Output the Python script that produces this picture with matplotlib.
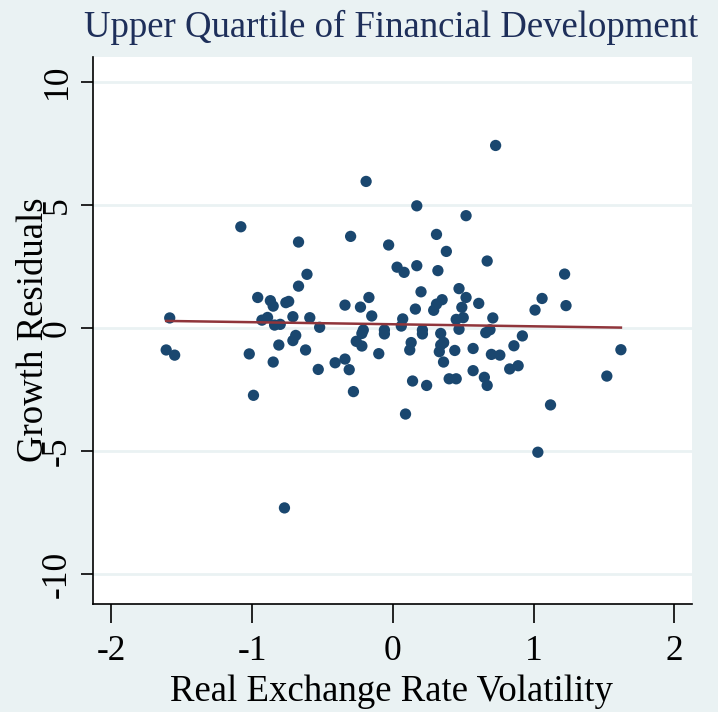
import numpy as np
import matplotlib
matplotlib.use("Agg")
import matplotlib.pyplot as plt

# volatility (x) and growth residuals (y)
vol = [-1.61, -1.585, -1.55, -1.08, -1.02, -0.99, -0.96, -0.93, -0.89, -0.87,
       -0.85, -0.85, -0.84, -0.81, -0.80, -0.77, -0.76, -0.74, -0.71, -0.71,
       -0.69, -0.67, -0.67, -0.62, -0.61, -0.59, -0.53, -0.52, -0.41, -0.34,
       -0.34, -0.31, -0.30, -0.28, -0.26, -0.23, -0.22, -0.22, -0.21, -0.19,
       -0.17, -0.15, -0.10, -0.06, -0.06, -0.03, 0.03, 0.06, 0.07, 0.08,
       0.09, 0.12, 0.13, 0.14, 0.16, 0.17, 0.17, 0.20, 0.21, 0.21,
       0.24, 0.29, 0.31, 0.31, 0.32, 0.33, 0.34, 0.34, 0.35, 0.36,
       0.36, 0.36, 0.38, 0.40, 0.44, 0.45, 0.45, 0.47, 0.47, 0.49,
       0.50, 0.52, 0.52, 0.57, 0.57, 0.61, 0.65, 0.66, 0.67, 0.67,
       0.69, 0.70, 0.71, 0.73, 0.76, 0.83, 0.86, 0.89, 0.92, 1.01,
       1.03, 1.06, 1.12, 1.22, 1.23, 1.52, 1.62]
resid = [-0.89, 0.41, -1.10, 4.11, -1.05, -2.73, 1.24, 0.32, 0.43, 1.11,
         0.89, -1.38, 0.12, -0.69, 0.15, -7.30, 1.03, 1.08, 0.46, -0.51,
         -0.30, 3.49, 1.70, -0.89, 2.18, 0.42, -1.68, 0.03, -1.41, 0.93,
         -1.26, -1.69, 3.72, -2.58, -0.54, 0.85, -0.22, -0.73, -0.08, 5.95,
         1.24, 0.49, -1.04, -0.08, -0.24, 3.37, 2.47, 0.08, 0.37, 2.26,
         -3.49, -0.89, -0.59, -2.15, 0.77, 4.96, 2.53, 1.47, -0.08, -0.24,
         -2.33, 0.72, 3.80, 0.97, 2.33, -0.96, -0.22, -0.69, 1.15, -0.59,
         -1.38, -0.59, 3.11, -2.06, -0.91, 0.35, -2.06, -0.05, 1.60, 0.84,
         0.42, 4.56, 1.24, -0.83, -1.73, 1.00, -2.00, -0.19, 2.72, -2.33,
         -0.07, -1.07, 0.41, 7.41, -1.10, -1.66, -0.72, -1.53, -0.32, 0.73,
         -5.04, 1.20, -3.12, 2.19, 0.91, -1.95, -0.88]

xticks = [-2, -1, 0, 1, 2]
yticks = [-10, -5, 0, 5, 10]

bg = "#EAF2F3"
navy = "#1A476F"
maroon = "#90353B"

plt.rcParams["font.family"] = ["Liberation Serif", "DejaVu Serif"]

W, H = 718, 712
fig = plt.figure(figsize=(W / 100, H / 100), dpi=100, facecolor=bg)
ax = fig.add_axes([93 / W, 1 - 604 / H, (692 - 93) / W, (604 - 57) / H])
ax.set_facecolor("white")

for yv in yticks:
    ax.axhline(yv, color=bg, lw=2, zorder=0)

ax.scatter(vol, resid, s=66, color=navy, edgecolors="none", zorder=3)

# linear fit like Stata's lfit
b, a = np.polyfit(vol, resid, 1)
fx = np.array([min(vol), max(vol)])
ax.plot(fx, a + b * fx, color=maroon, lw=1.8, zorder=4)

ax.set_xlim(-2.13, 2.125)
ax.set_ylim(-11.2, 11.0)
ax.set_xticks(xticks)
ax.set_yticks(yticks)
ax.set_xticklabels([str(t) for t in xticks], fontsize=25.5)
ax.set_yticklabels([str(t) for t in yticks], fontsize=25.5, rotation=90, va="center")
ax.tick_params(axis="x", direction="out", length=13.5, width=1.2, pad=9)
ax.tick_params(axis="y", direction="out", length=8.5, width=1.2, pad=5.5)

for s in ["top", "right"]:
    ax.spines[s].set_visible(False)
for s in ["left", "bottom"]:
    ax.spines[s].set_linewidth(1.2)

fig.text(391 / W, 1 - 701 / H, "Real Exchange Rate Volatility", fontsize=26.5,
         ha="center", va="baseline")
fig.text(43 / W, 1 - 330 / H, "Growth Residuals", fontsize=26.5, rotation=90,
         rotation_mode="anchor", ha="center", va="baseline")
fig.text(698 / W, 1 - 37 / H, "Upper Quartile of Financial Development",
         fontsize=26.5, color="#1E2F5A", ha="right", va="baseline")

fig.savefig("out.png", dpi=100, facecolor=bg)
